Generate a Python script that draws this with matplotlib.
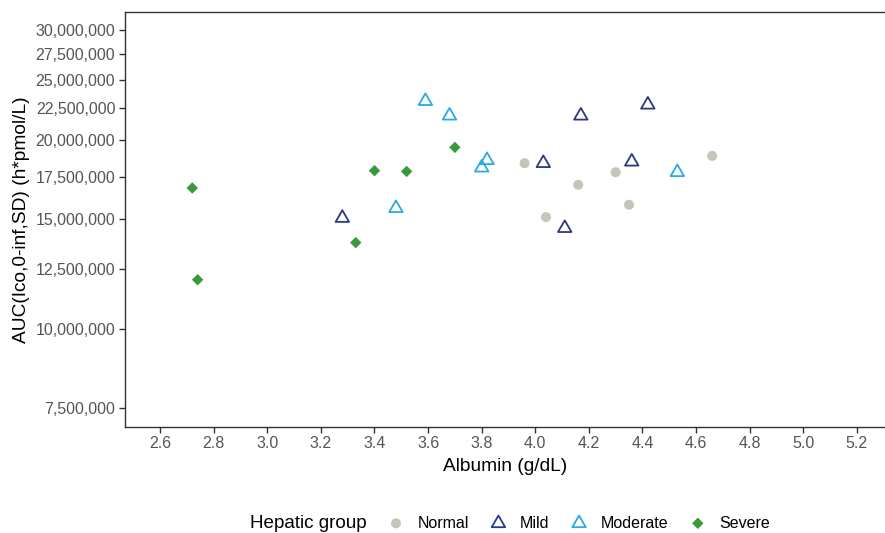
import numpy as np
import matplotlib
matplotlib.use("Agg")
import matplotlib.pyplot as plt
from matplotlib.ticker import FixedLocator, FuncFormatter, NullLocator

plt.rcParams['font.family'] = ['Liberation Sans', 'DejaVu Sans']

groups = ['Normal', 'Mild', 'Moderate', 'Severe']

normal_x = [3.96, 4.16, 4.30, 4.35, 4.04, 4.66]
normal_y = [18.4e6, 17.0e6, 17.8e6, 15.8e6, 15.1e6, 18.9e6]

mild_x = [3.28, 4.17, 4.42, 4.03, 4.36, 4.11]
mild_y = [15.05e6, 21.9e6, 22.8e6, 18.4e6, 18.5e6, 14.5e6]

moderate_x = [3.59, 3.68, 3.82, 3.80, 4.53, 3.48]
moderate_y = [23.1e6, 21.9e6, 18.6e6, 18.1e6, 17.8e6, 15.6e6]

severe_x = [2.72, 2.74, 3.33, 3.40, 3.52, 3.70]
severe_y = [16.8e6, 12.0e6, 13.75e6, 17.9e6, 17.85e6, 19.5e6]

x_ticks = [2.6, 2.8, 3.0, 3.2, 3.4, 3.6, 3.8, 4.0, 4.2, 4.4, 4.6, 4.8, 5.0, 5.2]
y_ticks = [7.5e6, 10e6, 12.5e6, 15e6, 17.5e6, 20e6, 22.5e6, 25e6, 27.5e6, 30e6]

tri = (3, 0, 0)  # equilateral triangle centred on centroid, like R pch 2

fig = plt.figure(figsize=(8.85, 5.33), dpi=100)
ax = fig.add_axes([125/885, (533-426.7)/533, 1 - 125/885, (426.7-12.3)/533])

ax.scatter(normal_x, normal_y, s=52, marker='o', color='#c8c4bc', edgecolors='none', label='Normal', zorder=3)
ax.scatter(mild_x, mild_y, s=125, marker=tri, facecolors='none', edgecolors='#2b3a80', linewidths=1.3, label='Mild', zorder=3)
ax.scatter(moderate_x, moderate_y, s=125, marker=tri, facecolors='none', edgecolors='#2aaae2', linewidths=1.3, label='Moderate', zorder=3)
ax.scatter(severe_x, severe_y, s=34, marker='D', color='#3a9a3a', edgecolors='none', label='Severe', zorder=3)

ax.set_yscale('log')
ax.set_xlim(2.469, 5.305)
ax.set_ylim(7.0e6, 32.0e6)
ax.xaxis.set_major_locator(FixedLocator(x_ticks))
ax.xaxis.set_major_formatter(FuncFormatter(lambda v, p: f'{v:.1f}'))
ax.yaxis.set_major_locator(FixedLocator(y_ticks))
ax.yaxis.set_minor_locator(NullLocator())
ax.yaxis.set_major_formatter(FuncFormatter(lambda v, p: f'{v:,.0f}'))

for side in ['left', 'bottom', 'top']:
    ax.spines[side].set_color('#333333')
    ax.spines[side].set_linewidth(1.0)
ax.spines['right'].set_visible(False)
ax.tick_params(axis='both', length=4, width=1, color='#333333', labelcolor='#555555', labelsize=11.5, pad=3)

ax.set_xlabel('Albumin (g/dL)', fontsize=13.8, color='black', labelpad=5)
ax.set_ylabel('AUC(Ico,0-inf,SD) (h*pmol/L)', fontsize=13.8, color='black', labelpad=4)

fig.text(250/885, 1 - 523/533, 'Hepatic group', fontsize=13.6, va='center', ha='left')
leg = fig.legend(loc='center left', bbox_to_anchor=(376/885, 1 - 523/533), ncol=4, frameon=False,
                 fontsize=11.5, handletextpad=0.6, columnspacing=1.1, handlelength=1.5, borderpad=0)

fig.savefig('out.png', dpi=100)
